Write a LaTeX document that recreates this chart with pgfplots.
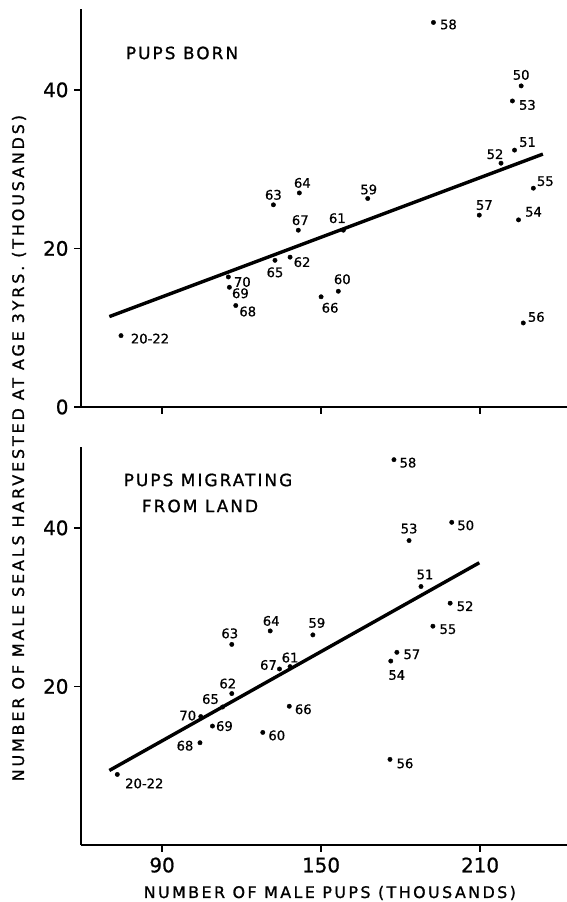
\documentclass[border=0pt]{standalone}
\usepackage{fontspec}
\setmainfont{DejaVu Sans}[FakeBold=0.8]
\newfontfamily\titlefont[LetterSpace=12,FakeBold=1.0]{DejaVu Sans}
\newfontfamily\labfont[LetterSpace=15,FakeBold=1.0]{DejaVu Sans}
\newfontfamily\ylabfont[LetterSpace=18,FakeBold=1.0]{DejaVu Sans}
\usepackage{pgfplots}
\usepackage{pgfplotstable}
\pgfplotsset{compat=1.18}

\pgfplotstableread{
x y lab dx dy
192.4 48.5 58 15 -2
225.5 40.5 50 0 11
222.2 38.6 53 15 -4
223.0 32.4 51 13 8
217.9 30.75 52 -6 9
230.1 27.6 55 12 7
167.6 26.3 59 1 9
209.7 24.2 57 5 10
224.5 23.6 54 15 8
158.4 22.3 61 -6 12
156.5 14.6 60 4 12
150.0 13.9 66 9 -11
226.3 10.6 56 13 6
132.0 25.5 63 0 10
141.8 27.0 64 3 10
141.4 22.3 67 2 10
132.6 18.5 65 0 -12
138.3 18.9 62 12 -5
115.0 16.4 70 14 -5
115.4 15.1 69 11 -6
117.8 12.8 68 12 -6
74.5 9.0 20-22 29 -3
}\born

\pgfplotstableread{
x y lab dx dy
177.5 48.6 58 14 -3
199.3 40.7 50 14 -3
183.2 38.4 53 0 12
187.7 32.6 51 4 12
198.7 30.5 52 15 -3
192.2 27.6 55 15 -3
146.9 26.5 59 4 12
178.6 24.3 57 15 -2
176.3 23.2 54 6 -14
176.0 10.8 56 15 -4
130.8 27.0 64 1 10
116.3 25.3 63 -2 11
138.3 22.5 61 0 9
134.3 22.2 67 -11 4
116.3 19.1 62 -4 10
112.8 17.4 65 -12 8
104.6 16.2 70 -13 1
138.0 17.5 66 14 -3
109.0 15.0 69 12 0
128.0 14.2 60 14 -3
104.3 12.9 68 -15 -3
73.1 8.9 20-22 27 -9
}\migr

\pgfplotsset{
  panel/.style={
    scale only axis, width=486bp, height=398bp,
    xmin=59.4, xmax=242.8, ymin=0, ymax=50.2,
    enlargelimits=false, clip=false,
    axis lines=left, axis line style={-, line width=2bp},
    xtick={90,150,210},
    tick align=outside, major tick length=7bp,
    tick style={line width=1.8bp, black},
    /pgf/number format/assume math mode=true,
    ticklabel style={font=\fontsize{20}{24}\selectfont},
    xticklabel style={yshift=-2bp},
    yticklabel style={xshift=-2bp},
  },
  pts/.style={
    only marks, mark=*, mark size=2.2bp, black,
    nodes near coords, point meta=explicit symbolic,
    visualization depends on={\thisrow{dx}\as\dx},
    visualization depends on={\thisrow{dy}\as\dy},
    nodes near coords align={anchor=center},
    every node near coord/.append style={anchor=center, xshift=\dx bp, yshift=\dy bp,
      font=\fontsize{13.2}{15}\selectfont, inner sep=0pt},
  },
}

\begin{document}
\begin{tikzpicture}
\useasboundingbox (0,0) rectangle (567bp,902bp);

\begin{axis}[panel, at={(81bp,495bp)}, anchor=origin,
  ytick={0,20,40}, xticklabels={,,}]
\addplot[pts] table[x=x, y=y, meta=lab] {\born};
\addplot[line width=3.4bp, black] coordinates {(70.1,11.4) (233.7,31.9)};
\end{axis}

\begin{axis}[panel, at={(81bp,57bp)}, anchor=origin,
  ytick={20,40},
  xlabel={\labfont\fontsize{16}{18}\selectfont NUMBER OF MALE PUPS (THOUSANDS)},
  xlabel style={at={(axis description cs:0.512,0)}, anchor=center, yshift=-48bp},
  ylabel={\ylabfont\fontsize{16}{18}\selectfont NUMBER OF MALE SEALS HARVESTED AT AGE 3YRS. (THOUSANDS)},
  ylabel style={at={(axis description cs:-0.1276,0.997)}, anchor=center, rotate=0}]
\addplot[pts] table[x=x, y=y, meta=lab] {\migr};
\addplot[line width=3.4bp, black] coordinates {(70.1,9.4) (209.7,35.6)};
\end{axis}

\node[anchor=center, inner sep=0pt, font=\titlefont\fontsize{17}{20}\selectfont] at (182bp,849bp) {PUPS BORN};
\node[anchor=center, inner sep=0pt, font=\titlefont\fontsize{17}{20}\selectfont] at (208bp,422bp) {PUPS MIGRATING};
\node[anchor=center, inner sep=0pt, font=\titlefont\fontsize{17}{20}\selectfont] at (200bp,396bp) {FROM LAND};
\end{tikzpicture}
\end{document}
